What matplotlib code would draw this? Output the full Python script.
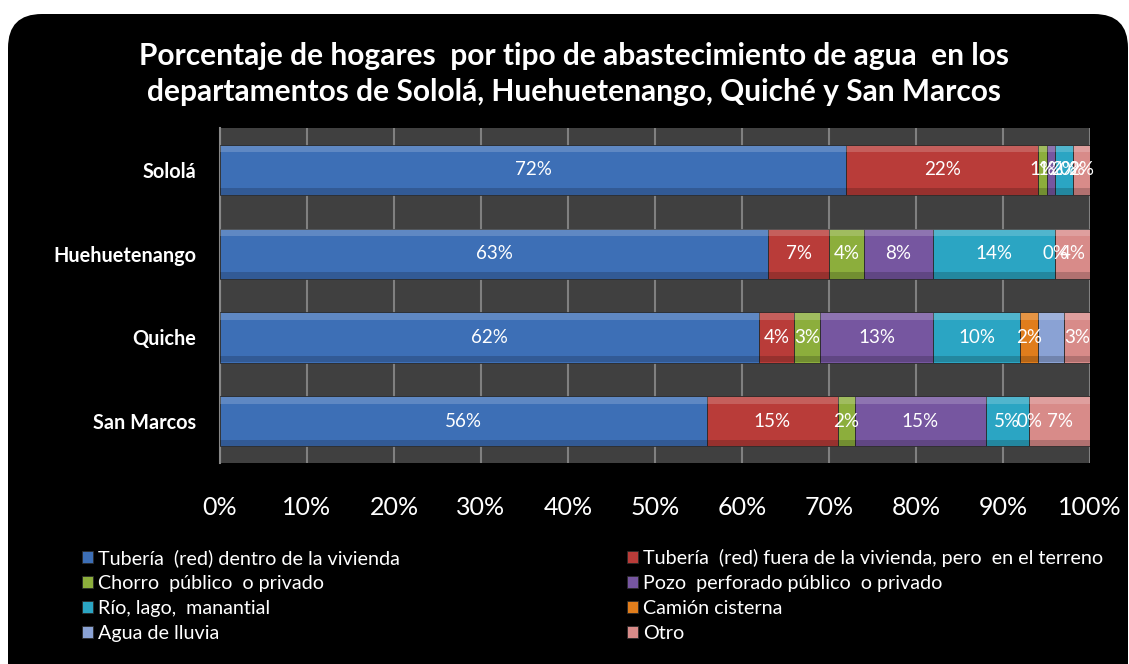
import matplotlib
matplotlib.use('Agg')
import matplotlib.pyplot as plt
from matplotlib.patches import FancyBboxPatch
import numpy as np

plt.rcParams['font.family'] = ['Lato', 'DejaVu Sans']

# Data
departments = ['Sololá', 'Huehuetenango', 'Quiche', 'San Marcos']
sources = [
    'Tubería  (red) dentro de la vivienda',
    'Tubería  (red) fuera de la vivienda, pero  en el terreno',
    'Chorro  público  o privado',
    'Pozo  perforado público  o privado',
    'Río, lago,  manantial',
    'Camión cisterna',
    'Agua de lluvia',
    'Otro',
]
dentro = [72, 63, 62, 56]
fuera = [22, 7, 4, 15]
chorro = [1, 4, 3, 2]
pozo = [1, 8, 13, 15]
rio = [2, 14, 10, 5]
camion = [0, 0, 2, 0]
lluvia = [0, 0, 3, 0]
otro = [2, 4, 3, 7]
series = [dentro, fuera, chorro, pozo, rio, camion, lluvia, otro]
colors = ['#3d6fb6', '#b93c39', '#8cae3c', '#7656a0', '#2ba5c3',
          '#e07d1c', '#8aa2d4', '#d88b89']
show_labels = [True, True, True, True, True, True, False, True]

fig = plt.figure(figsize=(11.29, 6.64), dpi=100)
fig.patch.set_facecolor('white')
bg = FancyBboxPatch((8 / 1129, -0.05), 1.0 - 9 / 1129, 0.05 + 650 / 664,
                    boxstyle='round,pad=0,rounding_size=0.03',
                    transform=fig.transFigure, facecolor='black',
                    edgecolor='none', zorder=-10, mutation_aspect=1129 / 664)
fig.patches.append(bg)

ax = fig.add_axes([220 / 1129, 1 - 463 / 664, 870 / 1129, 335 / 664])
ax.set_facecolor('#404040')

y = np.arange(len(departments))
left = np.zeros(len(departments))
handles = []
for vals, col, name, lab in zip(series, colors, sources, show_labels):
    vals = np.array(vals, dtype=float)
    b = ax.barh(y, vals, left=left, height=0.6, color=col, edgecolor='#2a2a2a',
                linewidth=0.6, label=name, zorder=3)
    # bevel look: lighter top strip, darker bottom strip
    ax.barh(y - 0.25, vals, left=left, height=0.08, color='white', alpha=0.18,
            linewidth=0, zorder=4)
    ax.barh(y + 0.26, vals, left=left, height=0.08, color='black', alpha=0.18,
            linewidth=0, zorder=4)
    handles.append(b)
    if lab:
        ax.bar_label(b, labels=[f'{int(v)}%' for v in vals], label_type='center',
                     color='white', fontsize=13.5, zorder=5)
    left += vals

ax.set_xlim(0, 100)
ax.set_ylim(3.5, -0.5)
ax.set_yticks(y)
ax.set_yticklabels(departments, color='white', fontsize=14.3, fontweight='bold')
ax.set_xticks(np.arange(0, 101, 10))
ax.set_xticklabels([f'{t}%' for t in range(0, 101, 10)], color='white', fontsize=18)
ax.tick_params(axis='y', length=0, pad=17)
ax.tick_params(axis='x', length=0, pad=24)
ax.grid(axis='x', color='#808080', linewidth=1.5, zorder=1)
for s in ['top', 'right', 'bottom']:
    ax.spines[s].set_visible(False)
ax.spines['left'].set_color('#888888')
ax.spines['left'].set_linewidth(1.5)

fig.text(0.508, 1 - 74 / 664,
         'Porcentaje de hogares  por tipo de abastecimiento de agua  en los\n'
         'departamentos de Sololá, Huehuetenango, Quiché y San Marcos',
         ha='center', va='center', color='white', fontsize=21.5,
         fontweight='bold', linespacing=1.38)

leg_kw = dict(loc='upper left', frameon=False, fontsize=14.2, labelcolor='white',
              handlelength=0.55, handleheight=0.55, handletextpad=0.25,
              labelspacing=0.4, borderpad=0, borderaxespad=0)
fig.legend([handles[i] for i in (0, 2, 4, 6)], [sources[i] for i in (0, 2, 4, 6)],
           bbox_to_anchor=(82 / 1129, 1 - 549 / 664), **leg_kw)
fig.legend([handles[i] for i in (1, 3, 5, 7)], [sources[i] for i in (1, 3, 5, 7)],
           bbox_to_anchor=(627 / 1129, 1 - 549 / 664), **leg_kw)

fig.savefig('out.png', dpi=100, facecolor=fig.get_facecolor())
